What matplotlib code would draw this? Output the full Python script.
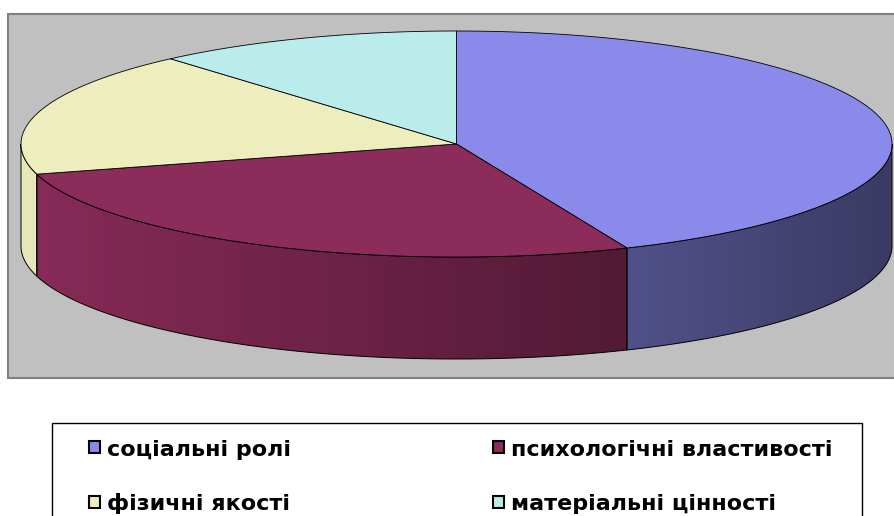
import numpy as np
import matplotlib
matplotlib.use("Agg")
import matplotlib.pyplot as plt
from matplotlib.patches import Polygon, Rectangle

# Дані
labels = ['соціальні ролі', 'психологічні властивості', 'фізичні якості', 'матеріальні цінності']
values = [43.6, 27.1, 17.9, 11.4]
colors = ['#8A8AEB', '#8B2C5A', '#EDEDBE', '#BBECEC']

# Геометрія 3D-торта (в пікселях)
cx, cy = 456.5, 144
a, b = 435.5, 113
h = 102

fig = plt.figure(figsize=(8.94, 5.16), dpi=100)
ax = fig.add_axes([0, 0, 1, 1])
ax.set_xlim(0, 894)
ax.set_ylim(516, 0)
ax.axis('off')

# Область побудови
ax.add_patch(Rectangle((8, 14), 900, 364, facecolor='#C0C0C0', edgecolor='#808080', lw=1.5, zorder=0))


def pt(t, dz=0):
    return cx + a * np.cos(np.radians(t)), cy + b * np.sin(np.radians(t)) + dz


def shade(col, x):
    f = 0.98 - 0.56 * (x - (cx - a)) / (2 * a)
    rgb = np.array(matplotlib.colors.to_rgb(col))
    return np.clip(rgb[None, :] * f[:, None], 0, 1)


total = sum(values)
bounds = [-90]
for v in values:
    bounds.append(bounds[-1] + 360 * v / total)

# Бокові грані (видима передня частина)
for i, col in enumerate(colors):
    t1, t2 = max(bounds[i], 0), min(bounds[i + 1], 180)
    if t2 <= t1:
        continue
    ts = np.linspace(t1, t2, 200)
    top = [pt(t) for t in ts]
    bot = [pt(t, h) for t in ts[::-1]]
    poly = Polygon(top + bot, closed=True, facecolor='none', edgecolor='none')
    ax.add_patch(poly)
    xs = np.linspace(cx - a, cx + a, 600)
    img = shade(col, xs)[None, :, :]
    im = ax.imshow(img, extent=[cx - a, cx + a, cy + b + h + 2, cy - 2], aspect='auto', zorder=1)
    im.set_clip_path(poly)
    outline = Polygon(top + bot, closed=True, facecolor='none', edgecolor='#000000', lw=0.7, zorder=2)
    ax.add_patch(outline)

# Верхні грані
for i, col in enumerate(colors):
    ts = np.linspace(bounds[i], bounds[i + 1], 200)
    pts = [(cx, cy)] + [pt(t) for t in ts]
    ax.add_patch(Polygon(pts, closed=True, facecolor=col, edgecolor='#000000', lw=0.6, zorder=3))

# Легенда
ax.add_patch(Rectangle((52, 423), 810, 120, facecolor='white', edgecolor='black', lw=1, zorder=0))
leg_pos = [(89, 456), (493, 456), (89, 510.5), (493, 510.5)]
for (x, y), lab, col in zip(leg_pos, labels, colors):
    ax.add_patch(Rectangle((x, y - 15), 11, 12, facecolor=col, edgecolor='black', lw=1.5, zorder=4))
    ax.text(x + 18, y, lab, fontsize=16, fontweight='bold', family='DejaVu Sans',
            ha='left', va='baseline', zorder=4)

fig.savefig('out.png', dpi=100)
